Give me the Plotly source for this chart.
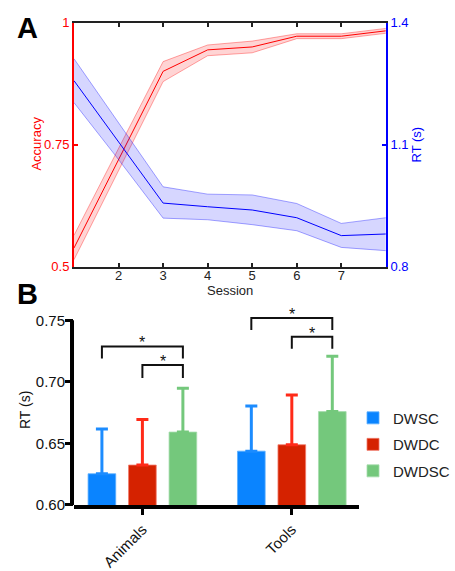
import plotly.graph_objects as go

W, H = 455, 571
FONT = "Liberation Sans, Arial, Helvetica, sans-serif"

# ---------------- Panel A data ----------------
sessions = [1, 2, 3, 4, 5, 6, 7, 8]
acc_mean = [0.538, 0.718, 0.900, 0.944, 0.950, 0.972, 0.972, 0.983]
acc_upper = [0.564, 0.741, 0.920, 0.954, 0.962, 0.977, 0.977, 0.988]
acc_lower = [0.514, 0.695, 0.879, 0.932, 0.938, 0.967, 0.967, 0.978]
rt_mean = [1.257, 1.108, 0.956, 0.947, 0.939, 0.920, 0.876, 0.880]
rt_upper = [1.311, 1.154, 0.996, 0.978, 0.976, 0.955, 0.906, 0.920]
rt_lower = [1.203, 1.063, 0.919, 0.915, 0.903, 0.888, 0.847, 0.839]
session_ticks = [2, 3, 4, 5, 6, 7]
acc_ticks = [0.5, 0.75, 1]
acc_ticktext = ["0.5", "0.75", "1"]
rt_ticks = [0.8, 1.1, 1.4]
rt_ticktext = ["0.8", "1.1", "1.4"]

# ---------------- Panel B data ----------------
categories = ["Animals", "Tools"]
cat_pos = [0, 1]
series_names = ["DWSC", "DWDC", "DWDSC"]
dwsc = [0.6253, 0.6437]
dwdc = [0.6324, 0.6489]
dwdsc = [0.6592, 0.6758]
dwsc_err = [0.0363, 0.0366]
dwdc_err = [0.0371, 0.0403]
dwdsc_err = [0.0355, 0.0450]
b_ticks = [0.60, 0.65, 0.70, 0.75]
b_ticktext = ["0.60", "0.65", "0.70", "0.75"]
# significance brackets: (category index, from series, to series, top y, leg bottom y)
brackets = [
    (0, 0, 2, 0.7287, 0.7189),
    (0, 1, 2, 0.7137, 0.7031),
    (1, 0, 2, 0.7518, 0.7421),
    (1, 1, 2, 0.7366, 0.7268),
]
sig_label = "*"

bar_colors = ["#0a84ff", "#d52200", "#74c87c"]
err_colors = ["#1c8cff", "#ff2a18", "#74c87c"]
edge_colors = ["#5aaeff", "#f07a6a", "#a6dcac"]

BARGAP = 0.187
BARGROUPGAP = 0.317

fig = go.Figure()

# ---- Panel A traces ----
RED = "#ff0000"
BLUE = "#0000ff"
fig.add_trace(go.Scatter(x=sessions, y=acc_upper, mode="lines",
                         line=dict(color="rgba(255,0,0,0.35)", width=1),
                         xaxis="x", yaxis="y", showlegend=False, hoverinfo="skip"))
fig.add_trace(go.Scatter(x=sessions, y=acc_lower, mode="lines", fill="tonexty",
                         fillcolor="rgba(255,0,0,0.17)",
                         line=dict(color="rgba(255,0,0,0.35)", width=1),
                         xaxis="x", yaxis="y", showlegend=False, hoverinfo="skip"))
fig.add_trace(go.Scatter(x=sessions, y=rt_upper, mode="lines",
                         line=dict(color="rgba(0,0,255,0.35)", width=1),
                         xaxis="x", yaxis="y2", showlegend=False, hoverinfo="skip"))
fig.add_trace(go.Scatter(x=sessions, y=rt_lower, mode="lines", fill="tonexty",
                         fillcolor="rgba(0,0,255,0.16)",
                         line=dict(color="rgba(0,0,255,0.35)", width=1),
                         xaxis="x", yaxis="y2", showlegend=False, hoverinfo="skip"))
fig.add_trace(go.Scatter(x=sessions, y=acc_mean, mode="lines",
                         line=dict(color=RED, width=1),
                         xaxis="x", yaxis="y", showlegend=False))
fig.add_trace(go.Scatter(x=sessions, y=rt_mean, mode="lines",
                         line=dict(color=BLUE, width=1),
                         xaxis="x", yaxis="y2", showlegend=False))

# ---- Panel B traces ----
vals = [dwsc, dwdc, dwdsc]
errs = [dwsc_err, dwdc_err, dwdsc_err]
for i, name in enumerate(series_names):
    fig.add_trace(go.Bar(
        x=cat_pos, y=vals[i], name=name, xaxis="x2", yaxis="y3",
        marker=dict(color=bar_colors[i], line=dict(color=edge_colors[i], width=0.8)),
        error_y=dict(type="data", symmetric=False, array=errs[i],
                     arrayminus=[0] * len(errs[i]),
                     color=err_colors[i], thickness=3, width=6),
        legendgroup=name,
    ))

# bracket shapes
slot = (1 - BARGAP) / 3
def bar_center(ci, si):
    return cat_pos[ci] + (si - 1) * slot

shapes = []
annotations = []
for ci, s0, s1, ytop, ybot in brackets:
    xa, xb = bar_center(ci, s0), bar_center(ci, s1)
    shapes.append(dict(type="path", xref="x2", yref="y3",
                       path=f"M{xa},{ybot} L{xa},{ytop} L{xb},{ytop} L{xb},{ybot}",
                       line=dict(color="#111111", width=2)))
    annotations.append(dict(x=(xa + xb) / 2, y=ytop, xref="x2", yref="y3",
                            text=sig_label, showarrow=False, yanchor="bottom",
                            yshift=-7, font=dict(family=FONT, size=16, color="#111111")))

# manual y axis line for panel B (stops at 0.75)
shapes.append(dict(type="line", xref="x2 domain", yref="y3",
                   xsizemode="pixel", xanchor=0, x0=-2, x1=-2, y0=0.6, y1=0.75,
                   line=dict(color="black", width=4)))

# text annotations
annotations += [
    dict(x=15 / W, y=1 - 22 / H, xref="paper", yref="paper", text="<b>A</b>",
         showarrow=False, xanchor="left", yanchor="middle",
         font=dict(family=FONT, size=29, color="black")),
    dict(x=15 / W, y=1 - 295 / H, xref="paper", yref="paper", text="<b>B</b>",
         showarrow=False, xanchor="left", yanchor="middle",
         font=dict(family=FONT, size=29, color="black")),
    dict(x=37 / W, y=1 - 141 / H, xref="paper", yref="paper", text="Accuracy",
         showarrow=False, textangle=-90, xanchor="center", yanchor="middle",
         font=dict(family=FONT, size=13, color=RED)),
    dict(x=422 / W, y=1 - 141 / H, xref="paper", yref="paper", text="RT (s)",
         showarrow=False, textangle=-90, xanchor="center", yanchor="middle",
         font=dict(family=FONT, size=13, color=BLUE)),
    dict(x=233 / W, y=1 - 292 / H, xref="paper", yref="paper", text="Session",
         showarrow=False, xanchor="center", yanchor="middle",
         font=dict(family=FONT, size=13, color="#222222")),
    dict(x=26 / W, y=1 - 415 / H, xref="paper", yref="paper", text="RT (s)",
         showarrow=False, textangle=-90, xanchor="center", yanchor="middle",
         font=dict(family=FONT, size=14, color="#111111")),
]

fig.update_layout(
    width=W, height=H, autosize=False,
    margin=dict(l=0, r=0, t=0, b=0),
    paper_bgcolor="white", plot_bgcolor="white",
    font=dict(family=FONT, color="#222222"),
    barmode="group", bargap=BARGAP, bargroupgap=BARGROUPGAP,
    showlegend=True,
    legend=dict(x=358 / W, y=1 - 406 / H, xanchor="left", yanchor="top",
                font=dict(family=FONT, size=15, color="#222222"),
                tracegroupgap=4, bgcolor="rgba(0,0,0,0)", itemwidth=30),
    xaxis=dict(domain=[75 / W, 391 / W], range=[1, 8], anchor="y",
               tickvals=session_ticks, ticks="inside", ticklen=4, tickwidth=1.5,
               tickcolor="#222222", showline=True, linecolor="#222222", linewidth=2,
               mirror="ticks", showgrid=False, zeroline=False, ticklabelstandoff=-4,
               tickfont=dict(family=FONT, size=13, color="#222222")),
    yaxis=dict(domain=[1 - 267 / H, 1 - 16 / H], range=[0.5, 1], anchor="x",
               tickvals=acc_ticks, ticktext=acc_ticktext, ticks="inside", ticklen=4,
               tickwidth=1.5, tickcolor=RED, showline=True, linecolor=RED,
               linewidth=2, showgrid=False, zeroline=False,
               tickfont=dict(family=FONT, size=13, color=RED)),
    yaxis2=dict(range=[0.8, 1.4], overlaying="y", side="right", anchor="x",
                tickvals=rt_ticks, ticktext=rt_ticktext, ticks="inside", ticklen=4,
                tickwidth=1.5, tickcolor=BLUE, showline=True, linecolor=BLUE,
                linewidth=2, showgrid=False, zeroline=False,
                tickfont=dict(family=FONT, size=13, color=BLUE)),
    xaxis2=dict(domain=[75 / W, 364 / W], range=[-0.4577, 1.451], anchor="y3",
                tickvals=cat_pos, ticktext=categories, tickangle=-45,
                ticks="outside", ticklen=6, tickwidth=3, tickcolor="black",
                showline=True, linecolor="black", linewidth=4, showgrid=False,
                zeroline=False, tickfont=dict(family=FONT, size=15, color="#111111")),
    yaxis3=dict(domain=[1 - 512.3 / H, 1 - 314.7 / H], range=[0.6, 0.756], anchor="x2",
                tickvals=b_ticks, ticktext=b_ticktext, ticks="outside", ticklen=8,
                tickwidth=3, tickcolor="black", showline=False, showgrid=False,
                zeroline=False, ticklabelstandoff=-3,
                tickfont=dict(family=FONT, size=15, color="#111111")),
    shapes=shapes,
    annotations=annotations,
)

fig.write_html(
    "out.html",
    config={"displayModeBar": False},
    post_script="document.documentElement.style.margin='0';"
                "document.body.style.margin='0';"
                "document.documentElement.style.overflow='hidden';"
                "document.body.style.overflow='hidden';",
)
